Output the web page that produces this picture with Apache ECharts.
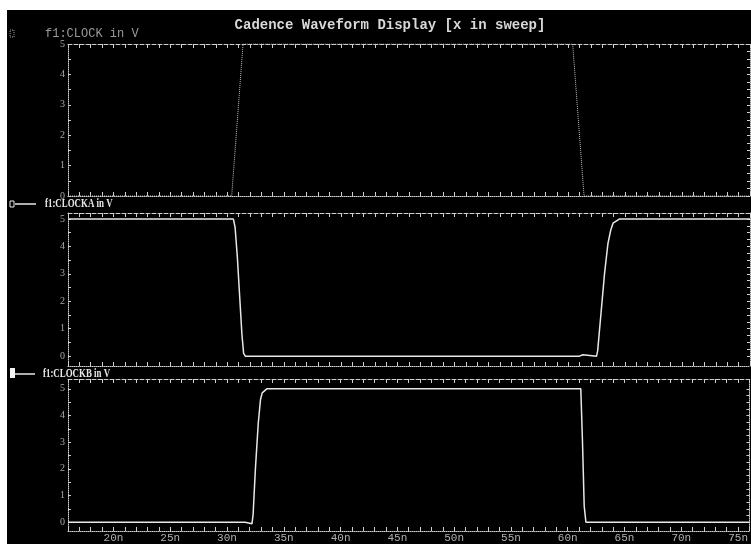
<!DOCTYPE html>
<html>
<head>
<meta charset="utf-8">
<title>Cadence Waveform Display</title>
<script src="https://cdn.jsdelivr.net/npm/echarts@6.0.0/dist/echarts.min.js"></script>
<style>
  html, body { margin: 0; padding: 0; background: #fff; }
  #main { position: absolute; left: 7px; top: 10px; width: 744px; height: 534px; background: #000; }
</style>
</head>
<body>
<div id="main"></div>
<script>
// sweep axis, ns
var xLabels = [20, 25, 30, 35, 40, 45, 50, 55, 60, 65, 70, 75];
var yLabels = [0, 1, 2, 3, 4, 5];

// f1:CLOCK (dim trace, top panel)
var clockT = [16, 30.4, 31.4, 60.4, 61.4, 76];
var clockV = [0, 0, 5, 5, 0, 0];

// f1:CLOCKA
var clockaT = [16, 30.55, 30.7, 30.9, 31.1, 31.3, 31.45, 31.6, 33.0, 33.05, 33.1, 61.0, 61.1, 61.3, 61.4, 62.5, 62.6, 62.9, 63.2, 63.5, 63.75, 63.95, 64.5, 76];
var clockaV = [5, 5, 4.7, 3.6, 2.2, 0.8, 0.1, 0, 0, 0.06, 0, 0, 0.05, 0.05, 0, 0, 0.2, 1.6, 3.0, 4.1, 4.6, 4.85, 5, 5];

// f1:CLOCKB
var clockbT = [16, 31.6, 31.7, 32.2, 32.3, 32.5, 32.75, 32.95, 33.1, 33.5, 61.15, 61.3, 61.45, 61.6, 63.3, 63.35, 63.4, 76];
var clockbV = [0, 0, -0.06, -0.06, 0.3, 2.0, 3.7, 4.6, 4.85, 5, 5, 3.0, 0.6, 0, 0, 0.05, 0, 0];

var wave = {
    fg: '#e8e8e8',
    dim: '#9a9a9a',
    axis: '#cfcfcf',
    mono: "'Liberation Mono', 'DejaVu Sans Mono', monospace",
    serif: "'Liberation Serif', 'DejaVu Serif', serif"
};

// grid placement of the three strips
var panels = [
    { top: 34, height: 152, min: 0, max: 5 },
    { top: 203, height: 153, min: -0.36, max: 5.22 },
    { top: 369, height: 154, min: -0.33, max: 5.37 }
];

var nsTicks = [];
for (var t = 16; t <= 76; t++) nsTicks.push(t);
var leftTicks = [0, 0.5, 1, 1.5, 2, 2.5, 3, 3.5, 4, 4.5, 5];
var rightTicks = [];
for (var v = 0; v <= 5; v += 0.25) rightTicks.push(v);

function zip(xs, ys) {
    return xs.map(function (x, i) { return [x, ys[i]]; });
}

var grids = [], xAxes = [], yAxes = [];
panels.forEach(function (p, i) {
    grids.push({ left: 61, right: 1, top: p.top, height: p.height });
    xAxes.push({
        type: 'value', gridIndex: i, min: 16, max: 76, position: 'bottom',
        axisLine: { onZero: false, lineStyle: { color: wave.axis, type: 'dotted', width: 1 } },
        axisTick: { inside: true, length: 4, customValues: nsTicks, lineStyle: { color: wave.axis } },
        axisLabel: {
            show: i === 2, customValues: xLabels, margin: 2,
            color: '#b0b0b0', fontFamily: wave.mono, fontSize: 11,
            formatter: function (val) { return val + 'n'; }
        },
        splitLine: { show: false }
    });
    xAxes.push({
        type: 'value', gridIndex: i, min: 16, max: 76, position: 'top',
        axisLine: { onZero: false, lineStyle: { color: wave.axis, type: 'dashed', width: 1 } },
        axisTick: { inside: true, length: 4, customValues: nsTicks, lineStyle: { color: wave.axis } },
        axisLabel: { show: false },
        splitLine: { show: false }
    });
    yAxes.push({
        type: 'value', gridIndex: i, min: p.min, max: p.max, position: 'left',
        axisLine: { show: true, onZero: false, lineStyle: { color: wave.axis, type: 'dotted' } },
        axisTick: { show: true, inside: true, length: 3, customValues: leftTicks, lineStyle: { color: wave.axis } },
        axisLabel: {
            customValues: yLabels, margin: 3,
            color: '#a8a8a8', fontFamily: wave.serif, fontSize: 10
        },
        splitLine: { show: false }
    });
    yAxes.push({
        type: 'value', gridIndex: i, min: p.min, max: p.max, position: 'right',
        axisLine: { show: true, onZero: false, lineStyle: { color: wave.axis, type: 'dotted' } },
        axisTick: { show: true, inside: true, length: 3, customValues: rightTicks, lineStyle: { color: wave.axis } },
        axisLabel: { show: false },
        splitLine: { show: false }
    });
});

function trace(name, i, xs, ys, color, type, width) {
    return {
        name: name, type: 'line',
        xAxisIndex: i * 2, yAxisIndex: i * 2,
        data: zip(xs, ys),
        showSymbol: false, animation: false, clip: true,
        lineStyle: { color: color, type: type, width: width }
    };
}

var labelGraphics = [
    // strip 1 (dimmed)
    { type: 'rect', shape: { x: 3, y: 20, width: 4, height: 7 }, style: { fill: null, stroke: wave.dim, lineDash: [1, 1] } },
    { type: 'text', x: 38, y: 24, style: { text: 'f1:CLOCK in V', fill: wave.dim, font: '12px ' + wave.mono, verticalAlign: 'middle' } },
    // strip 2
    { type: 'rect', shape: { x: 3, y: 191, width: 4, height: 6 }, style: { fill: null, stroke: wave.fg, lineWidth: 1 } },
    { type: 'line', shape: { x1: 8, y1: 194, x2: 29, y2: 194 }, style: { stroke: wave.fg, lineWidth: 1.5 } },
    { type: 'text', x: 38, y: 194, scaleX: 0.74, style: { text: 'f1:CLOCKA in V', fill: wave.fg, font: 'bold 12px ' + wave.serif, verticalAlign: 'middle' } },
    // strip 3
    { type: 'rect', shape: { x: 3, y: 358, width: 5, height: 10 }, style: { fill: '#f4f4f4' } },
    { type: 'line', shape: { x1: 8, y1: 364, x2: 28, y2: 364 }, style: { stroke: wave.fg, lineWidth: 1.5 } },
    { type: 'text', x: 36, y: 364, scaleX: 0.74, style: { text: 'f1:CLOCKB in V', fill: wave.fg, font: 'bold 12px ' + wave.serif, verticalAlign: 'middle' } }
];

var chart = echarts.init(document.getElementById('main'), null, { renderer: 'canvas' });
chart.setOption({
    backgroundColor: '#000',
    animation: false,
    title: {
        text: 'Cadence Waveform Display [x in sweep]',
        left: 378, top: 3, textAlign: 'center',
        textStyle: { color: '#d8d8d8', fontFamily: wave.mono, fontSize: 14, fontWeight: 'bold' }
    },
    grid: grids,
    xAxis: xAxes,
    yAxis: yAxes,
    graphic: labelGraphics,
    series: [
        trace('f1:CLOCK', 0, clockT, clockV, '#bdbdbd', 'dotted', 1),
        trace('f1:CLOCKA', 1, clockaT, clockaV, wave.fg, 'solid', 1.5),
        trace('f1:CLOCKB', 2, clockbT, clockbV, wave.fg, 'solid', 1.5)
    ]
});
</script>
</body>
</html>
